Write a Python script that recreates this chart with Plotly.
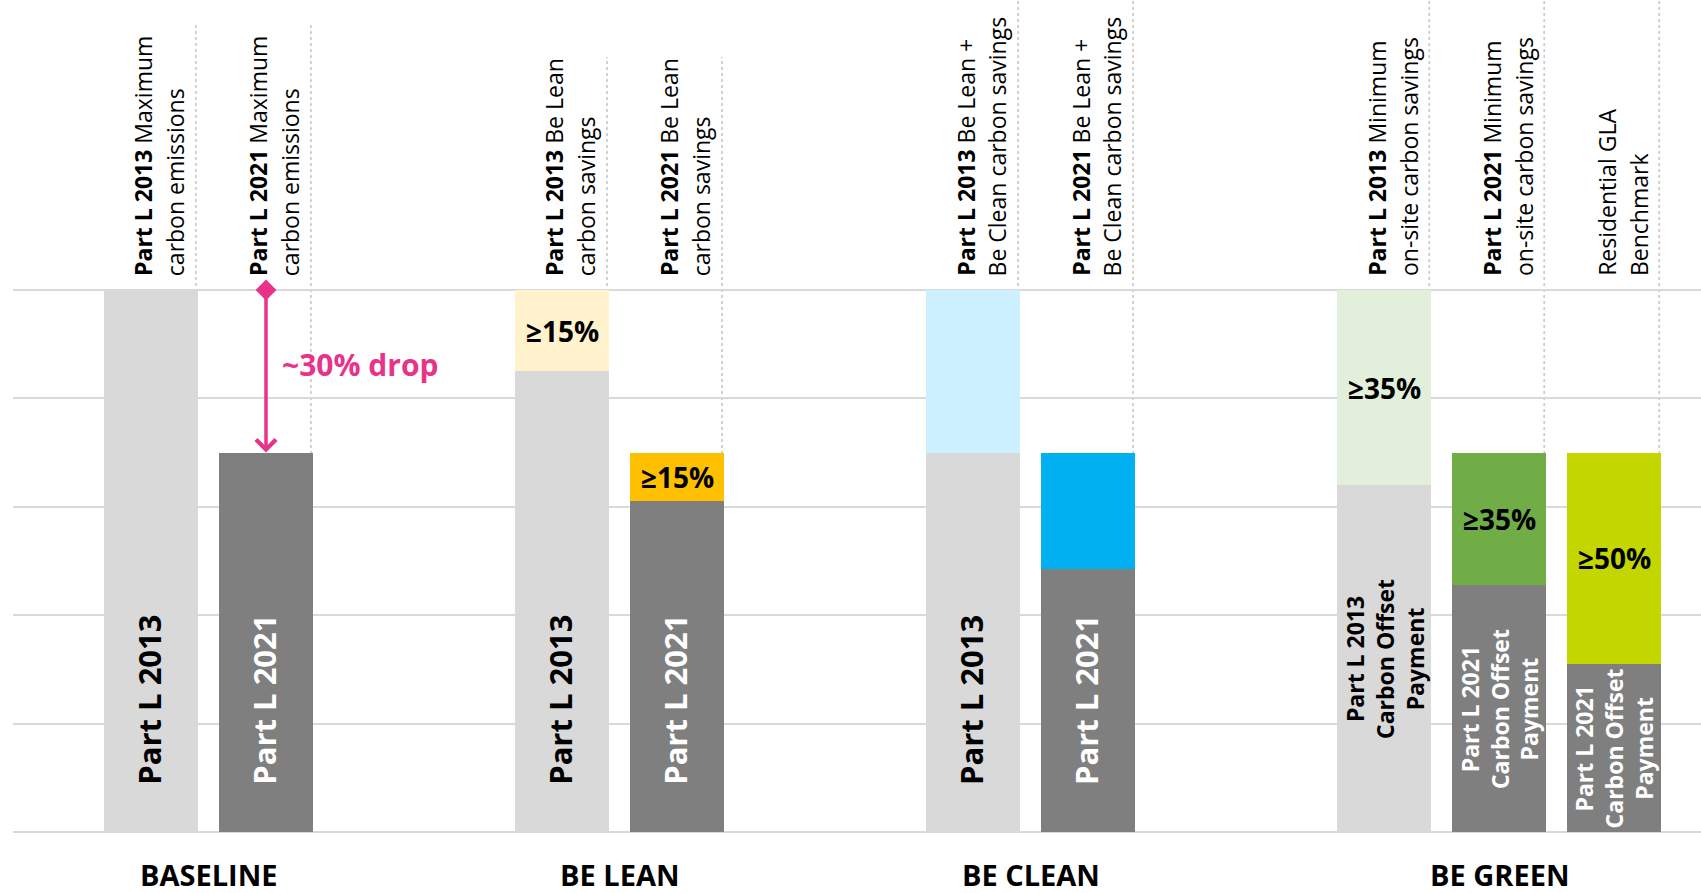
import plotly.graph_objects as go

# ---------------- data ----------------
group_names = ["BASELINE", "BE LEAN", "BE CLEAN", "BE GREEN"]
bar_group = [0, 0, 1, 1, 2, 2, 3, 3, 3]
bar_slot = [0, 1, 0, 1, 0, 1, 0, 1, 2]

header_bold = ["Part L 2013", "Part L 2021", "Part L 2013", "Part L 2021",
               "Part L 2013", "Part L 2021", "Part L 2013", "Part L 2021", ""]
header_rest = [" Maximum", " Maximum", " Be Lean", " Be Lean",
               " Be Lean +", " Be Lean +", " Minimum", " Minimum", "Residential GLA"]
header_line2 = ["carbon emissions", "carbon emissions", "carbon savings", "carbon savings",
                "Be Clean carbon savings", "Be Clean carbon savings",
                "on-site carbon savings", "on-site carbon savings", "Benchmark"]

base_values = [100, 70, 85, 61, 70, 48.5, 64, 45.5, 31]      # grey part
total_values = [100, 70, 100, 70, 100, 70, 100, 70, 70]      # top of coloured part
saving_labels = ["", "", "≥15%", "≥15%", "", "", "≥35%", "≥35%", "≥50%"]
bar_labels = ["Part L 2013", "Part L 2021", "Part L 2013", "Part L 2021",
              "Part L 2013", "Part L 2021",
              "Part L 2013<br>Carbon Offset<br>Payment",
              "Part L 2021<br>Carbon Offset<br>Payment",
              "Part L 2021<br>Carbon Offset<br>Payment"]
drop_label = "~30% drop"
drop_from, drop_to = 100, 70

# ---------------- styles ----------------
LIGHT, DARK = "#D9D9D9", "#7F7F7F"
base_colors = [LIGHT, DARK, LIGHT, DARK, LIGHT, DARK, LIGHT, DARK, DARK]
top_colors = ["#FFFFFF", "#FFFFFF", "#FFF2CC", "#FFC000", "#CCF0FF", "#00B0F0",
              "#E2EFDA", "#70AD47", "#C4D600"]
label_colors = ["black" if c == LIGHT else "white" for c in base_colors]
PINK = "#E8338A"
FONT = "Open Sans"
GROUP_STEP = 3.575
BAR_W = 0.817

xs = [g * GROUP_STEP + s for g, s in zip(bar_group, bar_slot)]
seg = [t - b for t, b in zip(total_values, base_values)]

fig = go.Figure()
fig.add_trace(go.Bar(x=xs, y=base_values, base=0, width=BAR_W,
                     marker=dict(color=base_colors, line=dict(width=0)),
                     hoverinfo="skip", showlegend=False))
fig.add_trace(go.Bar(x=xs, y=seg, base=base_values, width=BAR_W,
                     marker=dict(color=top_colors, line=dict(width=0)),
                     hoverinfo="skip", showlegend=False))

# pixel helpers for layout (y: 0 at 832px, 5.42 px per unit)
def ypx(p):
    return (832 - p) / 5.42

# dotted separators
rule_top_px = [22, 57, 0, 0]
for x, g in zip(xs, bar_group):
    fig.add_shape(type="line", xref="x", yref="y", x0=x + 0.39, x1=x + 0.39,
                  y0=0, y1=ypx(rule_top_px[g]), layer="below",
                  line=dict(color="#CDCDCD", width=1.8, dash="dot"))

annotations = []
# headers (two lines, rotated)
for i, x in enumerate(xs):
    l1 = (f"<b>{header_bold[i]}</b>" if header_bold[i] else "") + header_rest[i]
    for txt, off in ((l1, -0.07), (header_line2[i], 0.21)):
        annotations.append(dict(x=x + off, y=ypx(278), xref="x", yref="y", text=txt,
                                textangle=-90, xanchor="center", yanchor="bottom",
                                showarrow=False, align="left",
                                font=dict(family=FONT, size=23, color="black")))

# labels inside bars
for i, x in enumerate(xs):
    if "<br>" in bar_labels[i]:
        annotations.append(dict(x=x, y=base_values[i] / 2, xref="x", yref="y",
                                text=f"<b>{bar_labels[i]}</b>", textangle=-90,
                                xanchor="center", yanchor="middle", showarrow=False,
                                align="center",
                                font=dict(family=FONT, size=23, color=label_colors[i])))
    else:
        annotations.append(dict(x=x - 0.02, y=ypx(787), xref="x", yref="y",
                                text=f"<b>{bar_labels[i]}</b>", textangle=-90,
                                xanchor="center", yanchor="bottom", showarrow=False,
                                font=dict(family=FONT, size=31, color=label_colors[i])))
    if saving_labels[i]:
        annotations.append(dict(x=x, y=base_values[i] + seg[i] / 2, xref="x", yref="y",
                                text=f"<b>{saving_labels[i]}</b>", showarrow=False,
                                xanchor="center", yanchor="middle",
                                font=dict(family=FONT, size=28, color="black")))

# group labels
for g, name in enumerate(group_names):
    gx = [x for x, bg in zip(xs, bar_group) if bg == g]
    annotations.append(dict(x=(min(gx) + max(gx)) / 2, y=ypx(874), xref="x", yref="y",
                            text=f"<b>{name}</b>", showarrow=False,
                            xanchor="center", yanchor="middle",
                            font=dict(family=FONT, size=29, color="black")))

# drop arrow
annotations.append(dict(x=xs[1], y=drop_to, ax=xs[1], ay=drop_from, xref="x", yref="y",
                        axref="x", ayref="y", text="", showarrow=True, arrowhead=4,
                        arrowsize=1.1, arrowwidth=3.5, arrowcolor=PINK, standoff=0))
annotations.append(dict(x=xs[1] + 0.12, y=(drop_from + drop_to) / 2 + 1.2, xref="x", yref="y",
                        text=f"<b>{drop_label}</b>", showarrow=False, xanchor="left",
                        yanchor="middle", font=dict(family=FONT, size=30, color=PINK)))
fig.add_trace(go.Scatter(x=[xs[1]], y=[drop_from], mode="markers",
                         marker=dict(symbol="diamond", size=16, color=PINK),
                         hoverinfo="skip", showlegend=False))

fig.update_layout(
    width=1701, height=893, autosize=False,
    margin=dict(l=13, r=0, t=0, b=0),
    paper_bgcolor="white", plot_bgcolor="white",
    barmode="overlay", bargap=0,
    annotations=annotations,
    xaxis=dict(range=[-1.2, 13.478], showgrid=False, zeroline=False,
               showticklabels=False, fixedrange=True),
    yaxis=dict(range=[ypx(893), ypx(0)], tickvals=[0, 20, 40, 60, 80, 100],
               showgrid=True, gridcolor="#D9D9D9", gridwidth=2, zeroline=False,
               showticklabels=False, fixedrange=True),
)

fig.write_html("out.html", config={"displayModeBar": False},
               post_script="document.body.style.margin='0';document.body.style.overflow='hidden';")
